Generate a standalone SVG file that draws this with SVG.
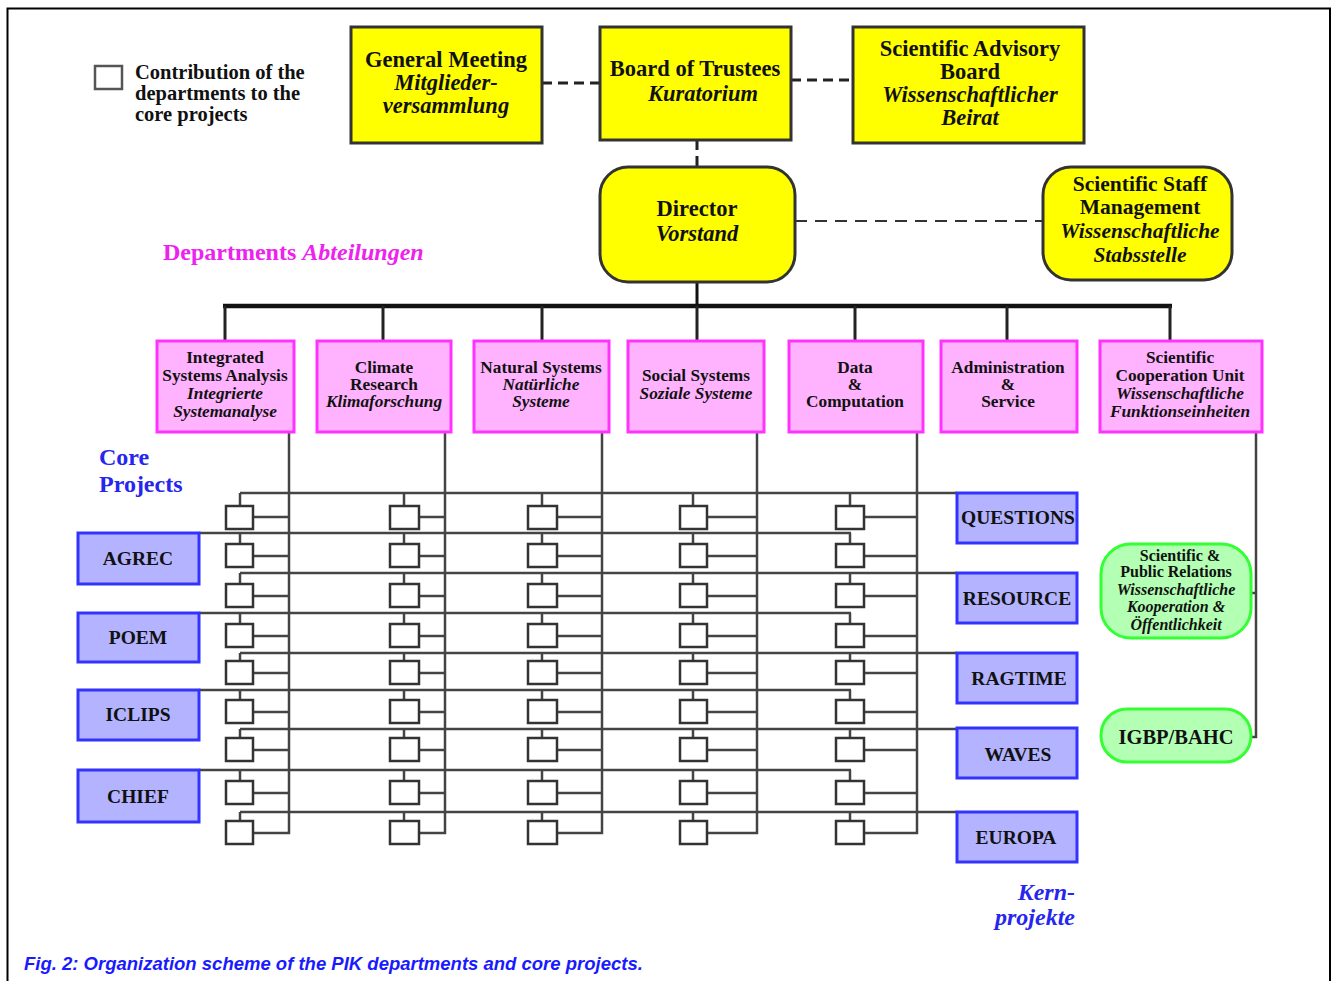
<svg xmlns="http://www.w3.org/2000/svg" width="1335" height="981" viewBox="0 0 1335 981">
<style>
text{font-family:"Liberation Serif","Times New Roman",serif;font-weight:bold;fill:#111;text-anchor:middle}
.it{font-style:italic}
.y{fill:#ffff00;stroke:#333;stroke-width:3}
.p{fill:#ffb3ff;stroke:#ff33ff;stroke-width:3}
.b{fill:#b3b3ff;stroke:#3333ff;stroke-width:3}
.g{fill:#b3ffb3;stroke:#33ff33;stroke-width:3}
.t19{font-size:22.5px}
.t21{font-size:21.5px}
.t15{font-size:17.3px}
.t17{font-size:19.5px}
.t14{font-size:16px}
.ln{stroke:#444;stroke-width:2.5;fill:none}
.dash{stroke:#222;stroke-width:3;fill:none;stroke-dasharray:10 6}
.cb{fill:#fff;stroke:#333;stroke-width:2.5}
.bl{font-size:24px;fill:#2626ee}
</style>
<rect width="1335" height="981" fill="#fff"/>
<path d="M7.5,981 V8.5 H1330 V981" fill="none" stroke="#000" stroke-width="2"/>

<g id="legend">
<rect x="95" y="66" width="27" height="23" fill="#fff" stroke="#555" stroke-width="2.5"/>
<text x="135" y="79" style="font-size:20.5px;text-anchor:start">Contribution of the</text>
<text x="135" y="100" style="font-size:20.5px;text-anchor:start">departments to the</text>
<text x="135" y="121" style="font-size:20.5px;text-anchor:start">core projects</text>
</g>

<g id="connectors">
<line class="dash" x1="542" y1="83" x2="600" y2="83"/>
<line class="dash" x1="791" y1="80" x2="853" y2="80"/>
<line class="dash" x1="697" y1="140" x2="697" y2="167" stroke-width="2"/>
<line x1="795" y1="221" x2="1043" y2="221" stroke="#333" stroke-width="2" stroke-dasharray="12 8"/>
<line x1="697" y1="282" x2="697" y2="306" stroke="#111" stroke-width="3"/>
<line x1="223" y1="306" x2="1172" y2="306" stroke="#111" stroke-width="4.5"/>
<path d="M225,306V341 M383,306V341 M542,306V341 M697,306V341 M855,306V341 M1007,306V341 M1170,306V341" stroke="#222" stroke-width="3"/>
<path class="ln" d="M289,432V833H253 M445,432V833H419 M602,432V833H557 M757,432V833H707 M917,432V833H864"/>
<path class="ln" d="M1256,432V737H1251 M1256,593H1251"/>
<path class="ln" d="M240,493H957 M240,573H957 M240,653H957 M240,729H957 M240,812H957"/>
<path class="ln" d="M199,533H851 M199,613H851 M199,690H851 M199,770H851"/>
<path class="ln" d="M240,493V506 M240,533V544 M240,573V584 M240,613V624 M240,653V661 M240,690V700 M240,729V738 M240,770V781 M240,812V821"/>
<path class="ln" d="M404,493V506 M404,533V544 M404,573V584 M404,613V624 M404,653V661 M404,690V700 M404,729V738 M404,770V781 M404,812V821"/>
<path class="ln" d="M542,493V506 M542,533V544 M542,573V584 M542,613V624 M542,653V661 M542,690V700 M542,729V738 M542,770V781 M542,812V821"/>
<path class="ln" d="M693,493V506 M693,533V544 M693,573V584 M693,613V624 M693,653V661 M693,690V700 M693,729V738 M693,770V781 M693,812V821"/>
<path class="ln" d="M850,493V506 M850,533V544 M850,573V584 M850,613V624 M850,653V661 M850,690V700 M850,729V738 M850,770V781 M850,812V821"/>
<path class="ln" d="M253,517H289 M253,556H289 M253,596H289 M253,636H289 M253,673H289 M253,712H289 M253,750H289 M253,793H289"/>
<path class="ln" d="M419,517H445 M419,556H445 M419,596H445 M419,636H445 M419,673H445 M419,712H445 M419,750H445 M419,793H445"/>
<path class="ln" d="M557,517H602 M557,556H602 M557,596H602 M557,636H602 M557,673H602 M557,712H602 M557,750H602 M557,793H602"/>
<path class="ln" d="M707,517H757 M707,556H757 M707,596H757 M707,636H757 M707,673H757 M707,712H757 M707,750H757 M707,793H757"/>
<path class="ln" d="M864,517H917 M864,556H917 M864,596H917 M864,636H917 M864,673H917 M864,712H917 M864,750H917 M864,793H917"/>
</g>

<g id="contribution-boxes">
<rect class="cb" x="226" y="506" width="27" height="23"/><rect class="cb" x="226" y="544" width="27" height="23"/><rect class="cb" x="226" y="584" width="27" height="23"/><rect class="cb" x="226" y="624" width="27" height="23"/><rect class="cb" x="226" y="661" width="27" height="23"/><rect class="cb" x="226" y="700" width="27" height="23"/><rect class="cb" x="226" y="738" width="27" height="23"/><rect class="cb" x="226" y="781" width="27" height="23"/><rect class="cb" x="226" y="821" width="27" height="23"/>
<rect class="cb" x="390" y="506" width="29" height="23"/><rect class="cb" x="390" y="544" width="29" height="23"/><rect class="cb" x="390" y="584" width="29" height="23"/><rect class="cb" x="390" y="624" width="29" height="23"/><rect class="cb" x="390" y="661" width="29" height="23"/><rect class="cb" x="390" y="700" width="29" height="23"/><rect class="cb" x="390" y="738" width="29" height="23"/><rect class="cb" x="390" y="781" width="29" height="23"/><rect class="cb" x="390" y="821" width="29" height="23"/>
<rect class="cb" x="528" y="506" width="29" height="23"/><rect class="cb" x="528" y="544" width="29" height="23"/><rect class="cb" x="528" y="584" width="29" height="23"/><rect class="cb" x="528" y="624" width="29" height="23"/><rect class="cb" x="528" y="661" width="29" height="23"/><rect class="cb" x="528" y="700" width="29" height="23"/><rect class="cb" x="528" y="738" width="29" height="23"/><rect class="cb" x="528" y="781" width="29" height="23"/><rect class="cb" x="528" y="821" width="29" height="23"/>
<rect class="cb" x="680" y="506" width="27" height="23"/><rect class="cb" x="680" y="544" width="27" height="23"/><rect class="cb" x="680" y="584" width="27" height="23"/><rect class="cb" x="680" y="624" width="27" height="23"/><rect class="cb" x="680" y="661" width="27" height="23"/><rect class="cb" x="680" y="700" width="27" height="23"/><rect class="cb" x="680" y="738" width="27" height="23"/><rect class="cb" x="680" y="781" width="27" height="23"/><rect class="cb" x="680" y="821" width="27" height="23"/>
<rect class="cb" x="836" y="506" width="28" height="23"/><rect class="cb" x="836" y="544" width="28" height="23"/><rect class="cb" x="836" y="584" width="28" height="23"/><rect class="cb" x="836" y="624" width="28" height="23"/><rect class="cb" x="836" y="661" width="28" height="23"/><rect class="cb" x="836" y="700" width="28" height="23"/><rect class="cb" x="836" y="738" width="28" height="23"/><rect class="cb" x="836" y="781" width="28" height="23"/><rect class="cb" x="836" y="821" width="28" height="23"/>
</g>

<g id="general-meeting">
<rect class="y" x="351" y="27" width="191" height="116"/>
<text x="446" y="67" class="t19">General Meeting</text>
<text x="446" y="90" class="t19 it">Mitglieder-</text>
<text x="446" y="113" class="t19 it">versammlung</text>
</g>
<g id="board-of-trustees">
<rect class="y" x="600" y="27" width="191" height="113"/>
<text x="695" y="76" class="t19">Board of Trustees</text>
<text x="703" y="101" class="t19 it">Kuratorium</text>
</g>
<g id="advisory-board">
<rect class="y" x="853" y="27" width="231" height="116"/>
<text x="970" y="56" class="t19">Scientific Advisory</text>
<text x="970" y="79" class="t19">Board</text>
<text x="970" y="102" class="t19 it">Wissenschaftlicher</text>
<text x="970" y="125" class="t19 it">Beirat</text>
</g>
<g id="director">
<rect class="y" x="600" y="167" width="195" height="115" rx="28"/>
<text x="697" y="216" class="t19">Director</text>
<text x="697" y="241" class="t19 it">Vorstand</text>
</g>
<g id="staff">
<rect class="y" x="1043" y="167" width="189" height="113" rx="28"/>
<text x="1140" y="191" class="t21">Scientific Staff</text>
<text x="1140" y="214" class="t21">Management</text>
<text x="1140" y="238" class="t21 it">Wissenschaftliche</text>
<text x="1140" y="262" class="t21 it">Stabsstelle</text>
</g>

<text x="163" y="260" style="font-size:24px;fill:#ee22ee;text-anchor:start">Departments <tspan class="it">Abteilungen</tspan></text>

<g id="dept-isa">
<rect class="p" x="157" y="341" width="137" height="91"/>
<text x="225" y="363" class="t15">Integrated</text>
<text x="225" y="381" class="t15">Systems Analysis</text>
<text x="225" y="399" class="t15 it">Integrierte</text>
<text x="225" y="417" class="t15 it">Systemanalyse</text>
</g>
<g id="dept-climate">
<rect class="p" x="317" y="341" width="134" height="91"/>
<text x="384" y="373" class="t15">Climate</text>
<text x="384" y="390" class="t15">Research</text>
<text x="384" y="407" class="t15 it">Klimaforschung</text>
</g>
<g id="dept-natural">
<rect class="p" x="474" y="341" width="135" height="91"/>
<text x="541" y="373" class="t15">Natural Systems</text>
<text x="541" y="390" class="t15 it">Natürliche</text>
<text x="541" y="407" class="t15 it">Systeme</text>
</g>
<g id="dept-social">
<rect class="p" x="628" y="341" width="136" height="91"/>
<text x="696" y="381" class="t15">Social Systems</text>
<text x="696" y="399" class="t15 it">Soziale Systeme</text>
</g>
<g id="dept-data">
<rect class="p" x="789" y="341" width="134" height="91"/>
<text x="855" y="373" class="t15">Data</text>
<text x="855" y="390" class="t15">&amp;</text>
<text x="855" y="407" class="t15">Computation</text>
</g>
<g id="dept-admin">
<rect class="p" x="941" y="341" width="136" height="91"/>
<text x="1008" y="373" class="t15">Administration</text>
<text x="1008" y="390" class="t15">&amp;</text>
<text x="1008" y="407" class="t15">Service</text>
</g>
<g id="dept-scu">
<rect class="p" x="1100" y="341" width="162" height="91"/>
<text x="1180" y="363" class="t15">Scientific</text>
<text x="1180" y="381" class="t15">Cooperation Unit</text>
<text x="1180" y="399" class="t15 it">Wissenschaftliche</text>
<text x="1180" y="417" class="t15 it">Funktionseinheiten</text>
</g>

<text x="99" y="465" class="bl" style="text-anchor:start">Core</text>
<text x="99" y="492" class="bl" style="text-anchor:start">Projects</text>

<g id="agrec"><rect class="b" x="78" y="533" width="121" height="51"/><text x="138" y="565" class="t17">AGREC</text></g>
<g id="poem"><rect class="b" x="78" y="613" width="121" height="49"/><text x="138" y="644" class="t17">POEM</text></g>
<g id="iclips"><rect class="b" x="78" y="690" width="121" height="50"/><text x="138" y="721" class="t17">ICLIPS</text></g>
<g id="chief"><rect class="b" x="78" y="770" width="121" height="52"/><text x="138" y="803" class="t17">CHIEF</text></g>
<g id="questions"><rect class="b" x="957" y="493" width="120" height="50"/><text x="1018" y="524" class="t17">QUESTIONS</text></g>
<g id="resource"><rect class="b" x="957" y="573" width="120" height="50"/><text x="1017" y="605" class="t17">RESOURCE</text></g>
<g id="ragtime"><rect class="b" x="957" y="653" width="120" height="50"/><text x="1019" y="685" class="t17">RAGTIME</text></g>
<g id="waves"><rect class="b" x="957" y="728" width="120" height="50"/><text x="1018" y="761" class="t17">WAVES</text></g>
<g id="europa"><rect class="b" x="957" y="812" width="120" height="50"/><text x="1016" y="844" class="t17">EUROPA</text></g>

<g id="public-relations">
<rect class="g" x="1101" y="544" width="150" height="94" rx="30"/>
<text x="1180" y="561" class="t14">Scientific &amp;</text>
<text x="1176" y="577" class="t14">Public Relations</text>
<text x="1176" y="595" class="t14 it">Wissenschaftliche</text>
<text x="1176" y="612" class="t14 it">Kooperation &amp;</text>
<text x="1176" y="630" class="t14 it">Öffentlichkeit</text>
</g>
<g id="igbp">
<rect class="g" x="1101" y="709" width="150" height="53" rx="26"/>
<text x="1176" y="744" style="font-size:20.5px">IGBP/BAHC</text>
</g>

<text x="1075" y="900" class="bl it" style="text-anchor:end">Kern-</text>
<text x="1075" y="925" class="bl it" style="text-anchor:end">projekte</text>

<text x="24" y="970" style="font-family:'Liberation Sans',Arial,sans-serif;font-size:18.5px;font-style:italic;fill:#1a1aff;text-anchor:start">Fig. 2: Organization scheme of the PIK departments and core projects.</text>
</svg>
